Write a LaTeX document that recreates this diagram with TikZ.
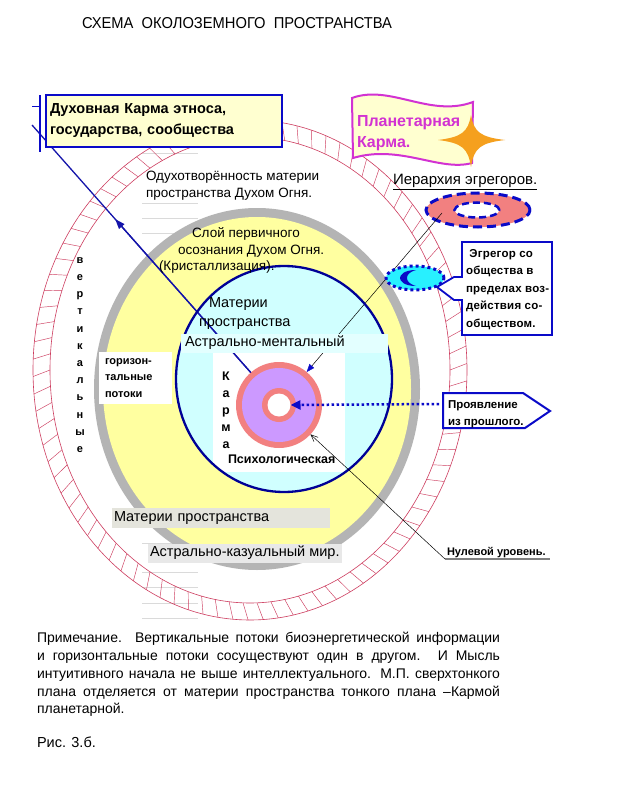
\documentclass[tikz,border=0pt]{standalone}
\usepackage{graphicx}
\usepackage{fontspec}
\setmainfont{Liberation Sans}
\usetikzlibrary{arrows.meta,shapes.geometric,calc}
\definecolor{hatchred}{RGB}{205,60,95}
\definecolor{ringgray}{RGB}{180,180,180}
\definecolor{yel}{RGB}{255,255,160}
\definecolor{lcyan}{RGB}{208,255,255}
\definecolor{dblue}{RGB}{0,0,150}
\definecolor{bblue}{RGB}{10,10,200}
\definecolor{lineblue}{RGB}{20,20,170}
\definecolor{salmon}{RGB}{242,128,128}
\definecolor{violet}{RGB}{204,153,255}
\definecolor{lyel}{RGB}{255,255,208}
\definecolor{magen}{RGB}{210,50,210}
\definecolor{orng}{RGB}{245,160,30}
\definecolor{aqua}{RGB}{40,240,255}
\definecolor{lgray}{RGB}{228,228,220}
\definecolor{faint}{RGB}{218,218,218}
\begin{document}
\begin{tikzpicture}[x=1pt,y=-1pt,
  every node/.style={inner sep=0pt,outer sep=0pt},
  txt/.style={anchor=base west,font=\fontsize{13.5}{16}\selectfont},
  btxt/.style={anchor=base west,font=\bfseries\fontsize{11}{14}\selectfont},
  notetxt/.style={anchor=base west,font=\fontsize{14}{17}\selectfont},
  faintline/.style={draw=faint,line width=0.8pt},
  hatch/.style={draw=hatchred,line width=0.6pt},
  disc/.style={circle,inner sep=0pt,outer sep=0pt,draw=none}]
\useasboundingbox[fill=white] (0,0) rectangle (620,805);

% title
\node[anchor=west] (title) at (82,23) {\resizebox{310pt}{11pt}{СХЕМА\ \ ОКОЛОЗЕМНОГО\ \ ПРОСТРАНСТВА}};

% faint background lines
\foreach \yy in {153,203,218,233,543,572,587,603,618}
  \draw[faintline] (142,\yy) -- (198,\yy);

% hatched outer band
\foreach \a in {0,4,...,356}
  \draw[hatch,line width=0.45pt] ({250+200*cos(\a)},{370+233*sin(\a)})
     -- ({250+217*cos(\a-1.5)},{370+250*sin(\a-1.5)});
\draw[hatch] (250,370) ellipse [x radius=217,y radius=250];
\draw[hatch] (250,370) ellipse [x radius=200,y radius=233];

% yellow disc with gray rim
\fill[ringgray] (257,389) ellipse [x radius=163,y radius=181];
\fill[yel] (257,389) ellipse [x radius=154,y radius=172];

% vertical flows
\node[font=\bfseries\fontsize{11}{17.2}\selectfont,align=center] (vert) at (80,355)
  {в\\е\\р\\т\\и\\к\\а\\л\\ь\\н\\ы\\е};

% horizontal flows box
\node[fill=white,anchor=north west,minimum width=73pt,minimum height=52pt,
      text width=61pt,inner xsep=6pt,align=left,
      font=\bfseries\fontsize{11}{16.5}\selectfont] (gor) at (99,352)
  {горизон-\\тальные\\потоки};

% inner light-blue disc
\fill[lcyan] (284,379) ellipse [x radius=108,y radius=113];
\begin{scope}
  \clip (284,379) ellipse [x radius=108,y radius=113];
  \fill[white] (213,352) rectangle (345,472);
\end{scope}

% karmic ring
\node[disc,fill=salmon,minimum size=86pt] (ring) at (279,405) {};
\node[disc,fill=violet,minimum size=74pt] (viol) at (279,405) {};
\node[disc,fill=salmon,minimum size=34pt] (inring) at (279,405) {};
\node[disc,fill=white,minimum size=23pt] (hole) at (279,405) {};

% hierarchy of egregors
\node[anchor=base west,font=\fontsize{15}{17}\selectfont] (hiert) at (393,185)
  {\underline{Иерархия эгрегоров.}};
\node[ellipse,fill=salmon,draw=bblue,line width=3pt,dash pattern=on 9pt off 5pt,
      minimum width=104pt,minimum height=34pt] (hier) at (478,210) {};
\node[ellipse,fill=white,draw=bblue,line width=2.5pt,dash pattern=on 7pt off 4pt,
      minimum width=45pt,minimum height=15pt] (hierin) at (477,210) {};

% connectors
\coordinate (bstart) at (32,125);
\coordinate (hierfoot) at (442,213);
\draw[lineblue,line width=1.3pt] (ring.131) -- (bstart);
\draw[lineblue,line width=1.3pt,-{Triangle[length=10pt,width=7pt]}]
  (ring.131) -- ($(ring.131)!0.62!(bstart)$);
\draw[black,line width=0.5pt,-{Triangle[length=8pt,width=6pt,color=bblue]}]
  (hierfoot) -- (ring.50);

% blue circle outline
\draw[dblue,line width=2.3pt] (284,379) ellipse [x radius=108,y radius=113];

% astral-mental band
\node[fill=lcyan!60,anchor=west,minimum height=19pt,minimum width=207pt,
      text width=199pt,inner xsep=4pt,align=left,
      font=\fontsize{14.5}{17}\selectfont] (astm) at (181,343) {Астрально-ментальный};

% texts
\node[txt] (odu1) at (146,180) {Одухотворённость материи};
\node[txt] (odu2) at (146,197) {пространства Духом Огня.};
\node[txt] (sl1) at (192,237) {Слой первичного};
\node[txt] (sl2) at (178,254) {осознания Духом Огня.};
\node[txt] (sl3) at (159,270) {(Кристаллизация).};
\node[txt,font=\fontsize{14.5}{17}\selectfont] (mat1) at (209,307) {Материи};
\node[txt,font=\fontsize{14.5}{17}\selectfont] (mat2) at (199,326) {пространства};
\node[font=\bfseries\fontsize{12.5}{17}\selectfont,align=center] (karma) at (226,410)
  {К\\а\\р\\м\\а};
\node[anchor=base west,font=\bfseries\fontsize{12.5}{15}\selectfont] (psy) at (228,463)
  {Психологическая};

% manifestation from the past
\draw[bblue,line width=2pt,fill=white] (443,393) -- (523,393) -- (550,411) -- (525,428) -- (443,428) -- cycle;
\node[anchor=base west,font=\bfseries\fontsize{11.5}{14}\selectfont] (proj1) at (448,408) {Проявление};
\node[anchor=base west,font=\bfseries\fontsize{11.5}{14}\selectfont] (proj2) at (448,425) {из прошлого.};
\coordinate (projfoot) at (439,404);
\draw[bblue,line width=2.5pt,dash pattern=on 2.5pt off 2.5pt,-{Triangle[length=10pt,width=9pt]}]
  (projfoot) -- (hole.east);

% zero level
\node[btxt] (nul) at (447,555) {Нулевой уровень.};
\coordinate (nulfoot) at (445,559);
\coordinate (nulend) at (550,559);
\draw[gray,line width=1.5pt] (nulfoot) -- (nulend);
\draw[black,line width=0.5pt,-{Straight Barb[length=7pt,width=6pt]}] (nulfoot) -- (ring.-43);

% bottom labels
\node[fill=lgray,anchor=west,minimum height=20pt,minimum width=218pt,text width=214pt,
      inner xsep=2pt,align=left,font=\fontsize{14.5}{17}\selectfont] (matb) at (112,518)
  {Материи пространства};
\node[fill=gray!18,anchor=west,minimum height=19pt,inner xsep=2pt,
      font=\fontsize{14.5}{17}\selectfont] (astk) at (148,553) {Астрально-казуальный мир.};

% spiritual karma box
\node[draw=bblue,line width=2pt,fill=lyel,anchor=north west,minimum width=236pt,
      minimum height=52pt,text width=228pt,inner xsep=4pt,align=left,
      font=\bfseries\fontsize{14.5}{21}\selectfont] (dk) at (46,95)
  {Духовная Карма этноса,\\государства, сообщества};
\coordinate (brtop) at (40,95);
\coordinate (brbot) at (40,152);
\coordinate (ticka) at (32,107);
\coordinate (tickb) at (40,107);
\draw[bblue,line width=1.5pt] (brtop) -- (brbot);
\draw[bblue,line width=1pt] (ticka) -- (tickb);

% planetary karma flag
\draw[magen,line width=2pt,fill=lyel] (352,98) .. controls (390,84) and (430,118) .. (473,102)
  -- (472,163) .. controls (440,172) and (400,144) .. (353,158) -- cycle;
\node[anchor=base west,font=\bfseries\fontsize{16}{18}\selectfont,text=magen] (pk1) at (357,127) {Планетарная};
\node[anchor=base west,font=\bfseries\fontsize{16}{18}\selectfont,text=magen] (pk2) at (357,148) {Карма.};
\fill[orng] (438,140) .. controls (462,137) and (468,132) .. (471,115)
  .. controls (474,132) and (480,137) .. (505,140)
  .. controls (480,143) and (474,148) .. (471,167)
  .. controls (468,148) and (462,143) .. (438,140) -- cycle;

% egregor of the society
\node[ellipse,fill=aqua,draw=bblue,line width=3pt,dash pattern=on 3pt off 3pt,
      minimum width=58pt,minimum height=24pt] (egr) at (415,278) {};
\fill[bblue] (416,270) .. controls (404,270) and (400,275) .. (400,278)
  .. controls (400,281) and (404,286) .. (416,286)
  .. controls (409,284) and (407,281) .. (407,278)
  .. controls (407,275) and (409,272) .. (416,270) -- cycle;
\draw[bblue,line width=1.8pt,fill=white] (462,242) -- (552,242) -- (552,335) -- (462,335)
  -- (462,300) -- (454,300) -- (437,287) -- (454,277) -- (462,277) -- cycle;
\node[anchor=north west,align=left,font=\bfseries\fontsize{11.5}{17.5}\selectfont\addfontfeature{LetterSpace=2}] (egrt) at (466,249)
  {\ Эгрегор со\\общества в\\пределах воз-\\действия со-\\обществом.};

% note
\node[notetxt] (n1) at (37,642) {\makebox[463pt][s]{Примечание.\ \ Вертикальные потоки биоэнергетической информации}};
\node[notetxt] (n2) at (37,660) {\makebox[463pt][s]{и горизонтальные потоки сосуществуют один в другом. И Мысль}};
\node[notetxt] (n3) at (37,678) {\makebox[463pt][s]{интуитивного начала не выше интеллектуального. М.П. сверхтонкого}};
\node[notetxt] (n4) at (37,696) {\makebox[463pt][s]{плана отделяется от материи пространства тонкого плана –Кармой}};
\node[notetxt] (n5) at (37,713) {планетарной.};
\node[anchor=base west,font=\fontsize{14.5}{17}\selectfont] (fig) at (37,747) {Рис. 3.б.};
\end{tikzpicture}
\end{document}
